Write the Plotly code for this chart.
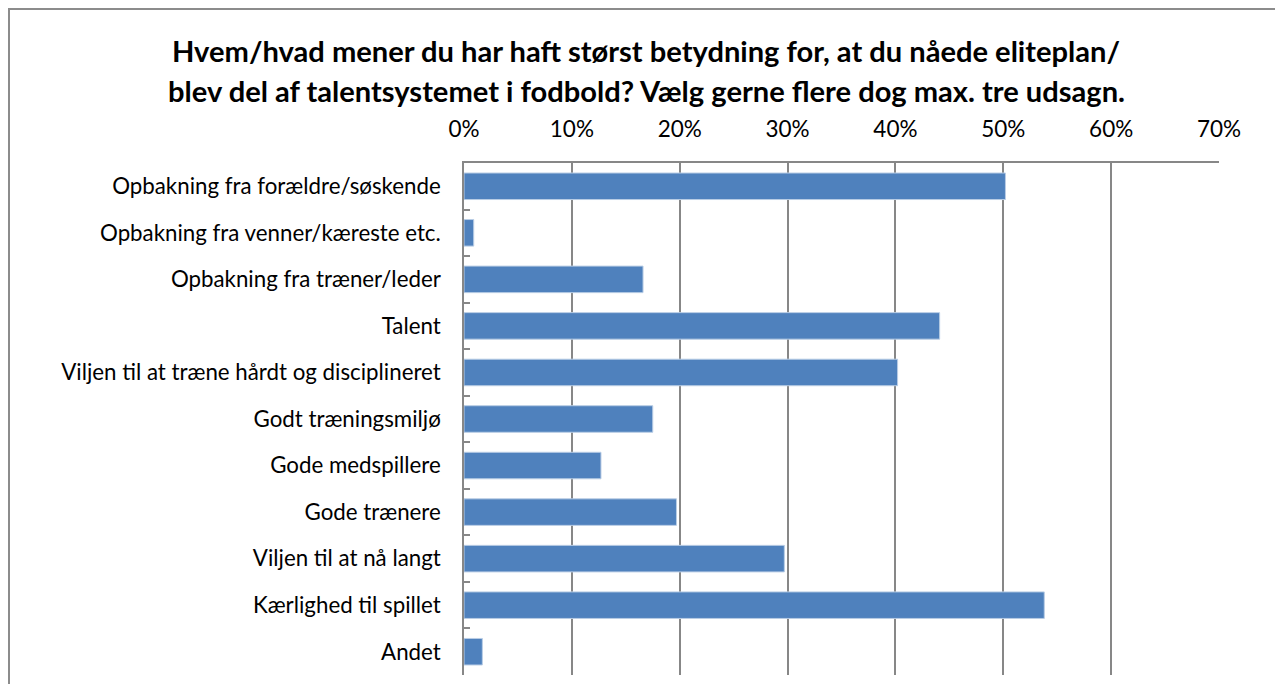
import plotly.graph_objects as go

categories = [
    "Opbakning fra forældre/søskende",
    "Opbakning fra venner/kæreste etc.",
    "Opbakning fra træner/leder",
    "Talent",
    "Viljen til at træne hårdt og disciplineret",
    "Godt træningsmiljø",
    "Gode medspillere",
    "Gode trænere",
    "Viljen til at nå langt",
    "Kærlighed til spillet",
    "Andet",
]
values = [50.2, 0.9, 16.6, 44.1, 40.2, 17.5, 12.7, 19.7, 29.7, 53.8, 1.7]
tick_vals = [0, 10, 20, 30, 40, 50, 60, 70]
tick_text = ["0%", "10%", "20%", "30%", "40%", "50%", "60%", "70%"]
title_lines = [
    "Hvem/hvad mener du har haft størst betydning for, at du nåede eliteplan/",
    "blev del af talentsystemet i fodbold? Vælg gerne flere dog max. tre udsagn.",
]

FONT = "Lato, Calibri, sans-serif"
GRID = "#878787"

fig = go.Figure(
    go.Bar(
        x=values,
        y=categories,
        orientation="h",
        marker=dict(color="#4F81BD", line=dict(color="#B9CDE5", width=1)),
        width=0.57,
    )
)

W, H = 1283, 684
OFF = 8  # page body offset
L, R, T, B = 464 - OFF, W - 1219 + OFF, 163 - OFF, H - 675 + OFF
pw, ph = W - L - R, H - T - B

fig.update_layout(
    width=W,
    height=H,
    margin=dict(l=L, r=R, t=T, b=B),
    paper_bgcolor="white",
    plot_bgcolor="white",
    showlegend=False,
    bargap=0.43,
    font=dict(family=FONT, color="#000000"),
)
fig.update_xaxes(
    side="top",
    range=[0, 70],
    tickvals=tick_vals,
    ticktext=tick_text,
    showgrid=True,
    gridcolor=GRID,
    gridwidth=1.5,
    showline=True,
    linecolor=GRID,
    linewidth=1.5,
    ticks="",
    zeroline=False,
    tickfont=dict(size=22.5, family=FONT),
    ticklabelstandoff=15,
    fixedrange=True,
)
fig.update_yaxes(
    autorange="reversed",
    showline=True,
    linecolor=GRID,
    linewidth=1.5,
    ticks="inside",
    tickson="boundaries",
    ticklen=6,
    tickcolor=GRID,
    tickwidth=1.5,
    showgrid=False,
    tickfont=dict(size=22.3, family=FONT),
    ticklabelstandoff=17,
    fixedrange=True,
)

# title lines as two annotations (paper coords from pixel positions)
for line, yc in zip(title_lines, [50 - OFF, 90 - OFF]):
    fig.add_annotation(
        text="<b>" + line + "</b>",
        xref="paper",
        yref="paper",
        x=(646 - OFF - L) / pw,
        y=1 + (T - yc) / ph,
        xanchor="center",
        yanchor="middle",
        showarrow=False,
        font=dict(size=29.1, family=FONT, color="#000000"),
    )

# outer chart frame
fig.add_shape(
    type="rect",
    xref="paper",
    yref="paper",
    x0=(1 - L) / pw,
    x1=(W + 5 - L) / pw,
    y0=1 + (T - 1) / ph,
    y1=-(B + 5) / ph,
    line=dict(color="#8C8C8C", width=2),
    layer="below",
)

fig.write_html("out.html")
